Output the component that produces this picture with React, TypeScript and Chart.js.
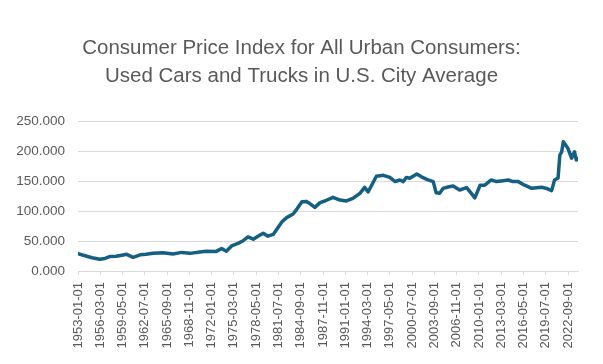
import React, { useEffect, useRef } from "react";
import { Chart, registerables } from "chart.js";

Chart.register(...registerables);

const TITLE_LINES = [
  "Consumer Price Index for All Urban Consumers:",
  "Used Cars and Trucks in U.S. City Average",
];
const START_YEAR = 1953;
const LAST_MONTH_INDEX = 853; // 2024-02
const TICK_STEP_MONTHS = 38;
const Y_MIN = 0;
const Y_MAX = 250;
const Y_STEP = 50;

const dates = [
  "1953-01", "1954-01", "1955-01", "1956-02", "1956-11", "1957-07", "1958-06", "1959-06",
  "1959-12", "1960-11", "1961-11", "1962-09", "1963-09", "1965-02", "1966-07", "1967-10",
  "1968-12", "1970-05", "1971-04", "1972-09", "1973-06", "1974-02", "1974-11", "1975-10",
  "1976-06", "1977-03", "1977-12", "1978-08", "1979-05", "1980-01", "1980-10", "1981-06",
  "1982-01", "1982-09", "1983-08", "1984-03", "1984-11", "1985-06", "1985-12", "1986-09",
  "1987-06", "1988-02", "1989-04", "1990-04", "1991-03", "1992-02", "1993-02", "1993-10",
  "1994-04", "1994-10", "1995-06", "1996-06", "1997-05", "1998-02", "1998-10", "1999-04",
  "1999-09", "2000-03", "2001-03", "2001-11", "2002-08", "2003-07", "2003-12", "2004-06",
  "2004-12", "2005-08", "2006-05", "2007-04", "2008-04", "2008-12", "2009-06", "2010-03",
  "2010-11", "2011-10", "2012-07", "2013-03", "2014-03", "2014-11", "2015-08", "2016-07",
  "2017-07", "2018-12", "2019-07", "2020-05", "2020-10", "2021-04", "2021-07", "2021-10",
  "2022-01", "2022-07", "2022-09", "2023-03", "2023-08", "2023-11", "2024-02",
];

const values = [
  29, 25.5, 22, 19.5, 21, 24, 24.5, 26.7,
  27.8, 22.8, 27, 28, 29.5, 30.5, 28.3, 31,
  29.4, 31.7, 33, 32.7, 37.5, 33, 41.7, 46,
  50, 57, 53, 58, 63, 58, 61, 72,
  82, 89, 95, 104, 115.5, 116, 112.8, 106,
  114, 116.7, 122.8, 118.3, 116.7, 121, 129.5, 139.5,
  132, 143, 158, 159.5, 156, 149, 151.7, 149,
  156, 154.5, 161.7, 157, 152.8, 149, 130.5, 129.5,
  137.8, 140, 141.7, 135, 139, 129.5, 122, 143,
  143, 151.7, 149, 150, 151.7, 149, 149, 143,
  137.8, 139.5, 138, 134, 151.7, 155, 193, 198,
  215.5, 207, 204, 188, 198.8, 185, 187,
];

function monthIndex(d: string): number {
  const [y, m] = d.split("-").map(Number);
  return (y - START_YEAR) * 12 + (m - 1);
}

function monthLabel(i: number): string {
  const y = START_YEAR + Math.floor(i / 12);
  const m = (i % 12) + 1;
  return `${y}-${String(m).padStart(2, "0")}-01`;
}

export default function App() {
  const canvasRef = useRef<HTMLCanvasElement | null>(null);

  useEffect(() => {
    document.body.style.margin = "0";
    const canvas = canvasRef.current;
    if (!canvas) return;
    const points = dates.map((d, i) => ({ x: monthIndex(d), y: values[i] }));
    const chart = new Chart(canvas, {
      type: "line",
      data: {
        datasets: [
          {
            data: points,
            borderColor: "#156082",
            borderWidth: 3.5,
            pointRadius: 0,
            tension: 0,
            borderJoinStyle: "round",
            borderCapStyle: "round",
          },
        ],
      },
      options: {
        responsive: false,
        animation: false,
        layout: { padding: { left: 0, right: 0, top: 0, bottom: 0 } },
        plugins: {
          legend: { display: false },
          tooltip: { enabled: false },
          title: {
            display: true,
            text: TITLE_LINES,
            color: "#595959",
            font: { family: "'Liberation Sans', Arial, sans-serif", size: 20.5, weight: "normal", lineHeight: 1.366 },
            padding: { top: 34, bottom: 31 },
          },
        },
        scales: {
          x: {
            type: "linear",
            min: 0,
            max: LAST_MONTH_INDEX,
            afterBuildTicks: (scale: any) => {
              const t = [];
              for (let v = 0; v <= LAST_MONTH_INDEX; v += TICK_STEP_MONTHS) t.push({ value: v });
              scale.ticks = t;
            },
            afterFit: (scale: any) => {
              scale.height = 93;
            },
            ticks: {
              autoSkip: false,
              maxRotation: 90,
              minRotation: 90,
              padding: 7,
              color: "#595959",
              font: { family: "'Liberation Sans', Arial, sans-serif", size: 13 },
              callback: (v: any) => monthLabel(Number(v)),
            },
            grid: {
              drawOnChartArea: false,
              drawTicks: true,
              tickLength: 4,
              color: "#d9d9d9",
            },
            border: { display: true, color: "#d9d9d9", width: 1 },
          },
          y: {
            min: Y_MIN,
            max: Y_MAX,
            afterFit: (scale: any) => {
              scale.width = 78;
            },
            ticks: {
              stepSize: Y_STEP,
              padding: 13,
              color: "#595959",
              font: { family: "'Liberation Sans', Arial, sans-serif", size: 13.5 },
              callback: (v: any) => Number(v).toFixed(3),
            },
            grid: { color: "#d9d9d9", drawTicks: false, lineWidth: 1 },
            border: { display: false },
          },
          rightSpace: {
            type: "linear",
            position: "right",
            display: true,
            min: Y_MIN,
            max: Y_MAX,
            afterFit: (scale: any) => {
              scale.width = 25;
            },
            ticks: { display: false },
            grid: { drawOnChartArea: false, drawTicks: false, display: false },
            border: { display: false },
          },
        },
      },
    });
    return () => chart.destroy();
  }, []);

  return (
    <div style={{ width: 603, height: 364, background: "#fff" }}>
      <canvas ref={canvasRef} width={603} height={364} style={{ display: "block" }} />
    </div>
  );
}
